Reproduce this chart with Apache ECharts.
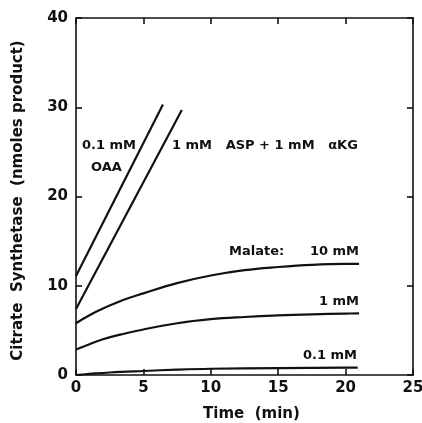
<!DOCTYPE html>
<html>
<head>
<meta charset="utf-8">
<script src="https://cdn.jsdelivr.net/npm/echarts@6/dist/echarts.min.js"></script>
<style>
  html, body { margin: 0; padding: 0; background: #fff; }
  #chart { width: 422px; height: 423px; }
</style>
</head>
<body>
<div id="chart"></div>
<script>
// 数据：时间 (min) 与柠檬酸合酶产物 (nmoles)
var oaaTime = [0, 6.45];
var oaaValue = [11.1, 30.3];
var aspTime = [0, 7.85];
var aspValue = [7.4, 29.7];
var mal10Time = [0, 1, 2, 3.5, 5, 7.5, 10, 12.5, 15, 17.5, 20, 21];
var mal10Value = [5.8, 6.7, 7.45, 8.4, 9.15, 10.3, 11.15, 11.75, 12.1, 12.35, 12.45, 12.45];
var mal1Time = [0, 1, 2, 3.5, 5, 7.5, 10, 12.5, 15, 17.5, 20, 21];
var mal1Value = [2.85, 3.45, 4.0, 4.6, 5.1, 5.8, 6.25, 6.5, 6.68, 6.8, 6.88, 6.9];
var mal01Time = [0, 1, 2.5, 5, 7.5, 10, 15, 20, 20.9];
var mal01Value = [0, 0.12, 0.28, 0.45, 0.6, 0.7, 0.78, 0.82, 0.82];

var xTicks = [0, 5, 10, 15, 20, 25];
var yTicks = [0, 10, 20, 30, 40];

function pairs(xs, ys) {
  return xs.map(function (x, i) { return [x, ys[i]]; });
}

var font = '"DejaVu Sans", sans-serif';
var chart = echarts.init(document.getElementById('chart'));

var axisLineStyle = { color: '#111', width: 1.6 };

function lineSeries(xs, ys, smooth) {
  return {
    type: 'line',
    data: pairs(xs, ys),
    smooth: smooth,
    showSymbol: false,
    symbol: 'none',
    lineStyle: { color: '#111', width: 2.2 },
    xAxisIndex: 0,
    yAxisIndex: 0
  };
}

function labelText(opts) {
  opts.type = 'text';
  opts.style.font = 'bold 13px ' + font;
  opts.style.fill = '#111';
  return opts;
}

chart.setOption({
  animation: false,
  backgroundColor: '#fff',
  grid: { left: 76, right: 9, top: 18, bottom: 48, outerBoundsMode: 'none' },
  xAxis: [{
    type: 'value',
    min: 0, max: 25, interval: 5,
    position: 'bottom',
    name: 'Time  (min)',
    nameLocation: 'middle',
    nameGap: 32,
    nameTextStyle: { fontFamily: font, fontWeight: 'bold', fontSize: 15, color: '#111', padding: [0, 0, 0, 14] },
    axisLine: { show: true, onZero: false, lineStyle: axisLineStyle },
    axisTick: { show: true, inside: true, length: 6, lineStyle: axisLineStyle },
    axisLabel: {
      fontFamily: font, fontWeight: 'bold', fontSize: 15, color: '#111', margin: 6,
      formatter: function (v) { return xTicks.indexOf(v) >= 0 ? String(v) : ''; }
    },
    splitLine: { show: false }
  }, {
    type: 'value',
    min: 0, max: 25, interval: 5,
    position: 'top',
    axisLine: { show: true, onZero: false, lineStyle: axisLineStyle },
    axisTick: { show: true, inside: true, length: 6, lineStyle: axisLineStyle },
    axisLabel: { show: false },
    splitLine: { show: false }
  }],
  yAxis: [{
    type: 'value',
    min: 0, max: 40, interval: 10,
    position: 'left',
    name: 'Citrate  Synthetase  (nmoles product)',
    nameLocation: 'middle',
    nameGap: 50,
    nameTextStyle: { fontFamily: font, fontWeight: 'bold', fontSize: 15, color: '#111', padding: [0, 8, 0, 0] },
    axisLine: { show: true, onZero: false, lineStyle: axisLineStyle },
    axisTick: { show: true, inside: true, length: 6, lineStyle: axisLineStyle },
    axisLabel: {
      fontFamily: font, fontWeight: 'bold', fontSize: 15, color: '#111', margin: 8,
      formatter: function (v) { return yTicks.indexOf(v) >= 0 ? String(v) : ''; }
    },
    splitLine: { show: false }
  }, {
    type: 'value',
    min: 0, max: 40, interval: 10,
    position: 'right',
    axisLine: { show: true, onZero: false, lineStyle: axisLineStyle },
    axisTick: { show: true, inside: true, length: 6, lineStyle: axisLineStyle },
    axisLabel: { show: false },
    splitLine: { show: false }
  }],
  series: [
    lineSeries(oaaTime, oaaValue, false),
    lineSeries(aspTime, aspValue, false),
    lineSeries(mal10Time, mal10Value, 0.4),
    lineSeries(mal1Time, mal1Value, 0.4),
    lineSeries(mal01Time, mal01Value, 0.4),
    // 空系列：让顶部和右侧坐标轴也参与绘制
    { type: 'line', data: [], xAxisIndex: 1, yAxisIndex: 1 }
  ],
  graphic: [
    labelText({ left: 82, top: 139, style: { text: '0.1 mM' } }),
    labelText({ left: 91, top: 161, style: { text: 'OAA' } }),
    labelText({ left: 172, top: 139, style: { text: '1 mM   ASP + 1 mM   \u03b1KG' } }),
    labelText({ left: 229, top: 245, style: { text: 'Malate:' } }),
    labelText({ right: 63, top: 245, style: { text: '10 mM' } }),
    labelText({ right: 63, top: 295, style: { text: '1 mM' } }),
    labelText({ right: 65, top: 349, style: { text: '0.1 mM' } })
  ]
});
</script>
</body>
</html>
